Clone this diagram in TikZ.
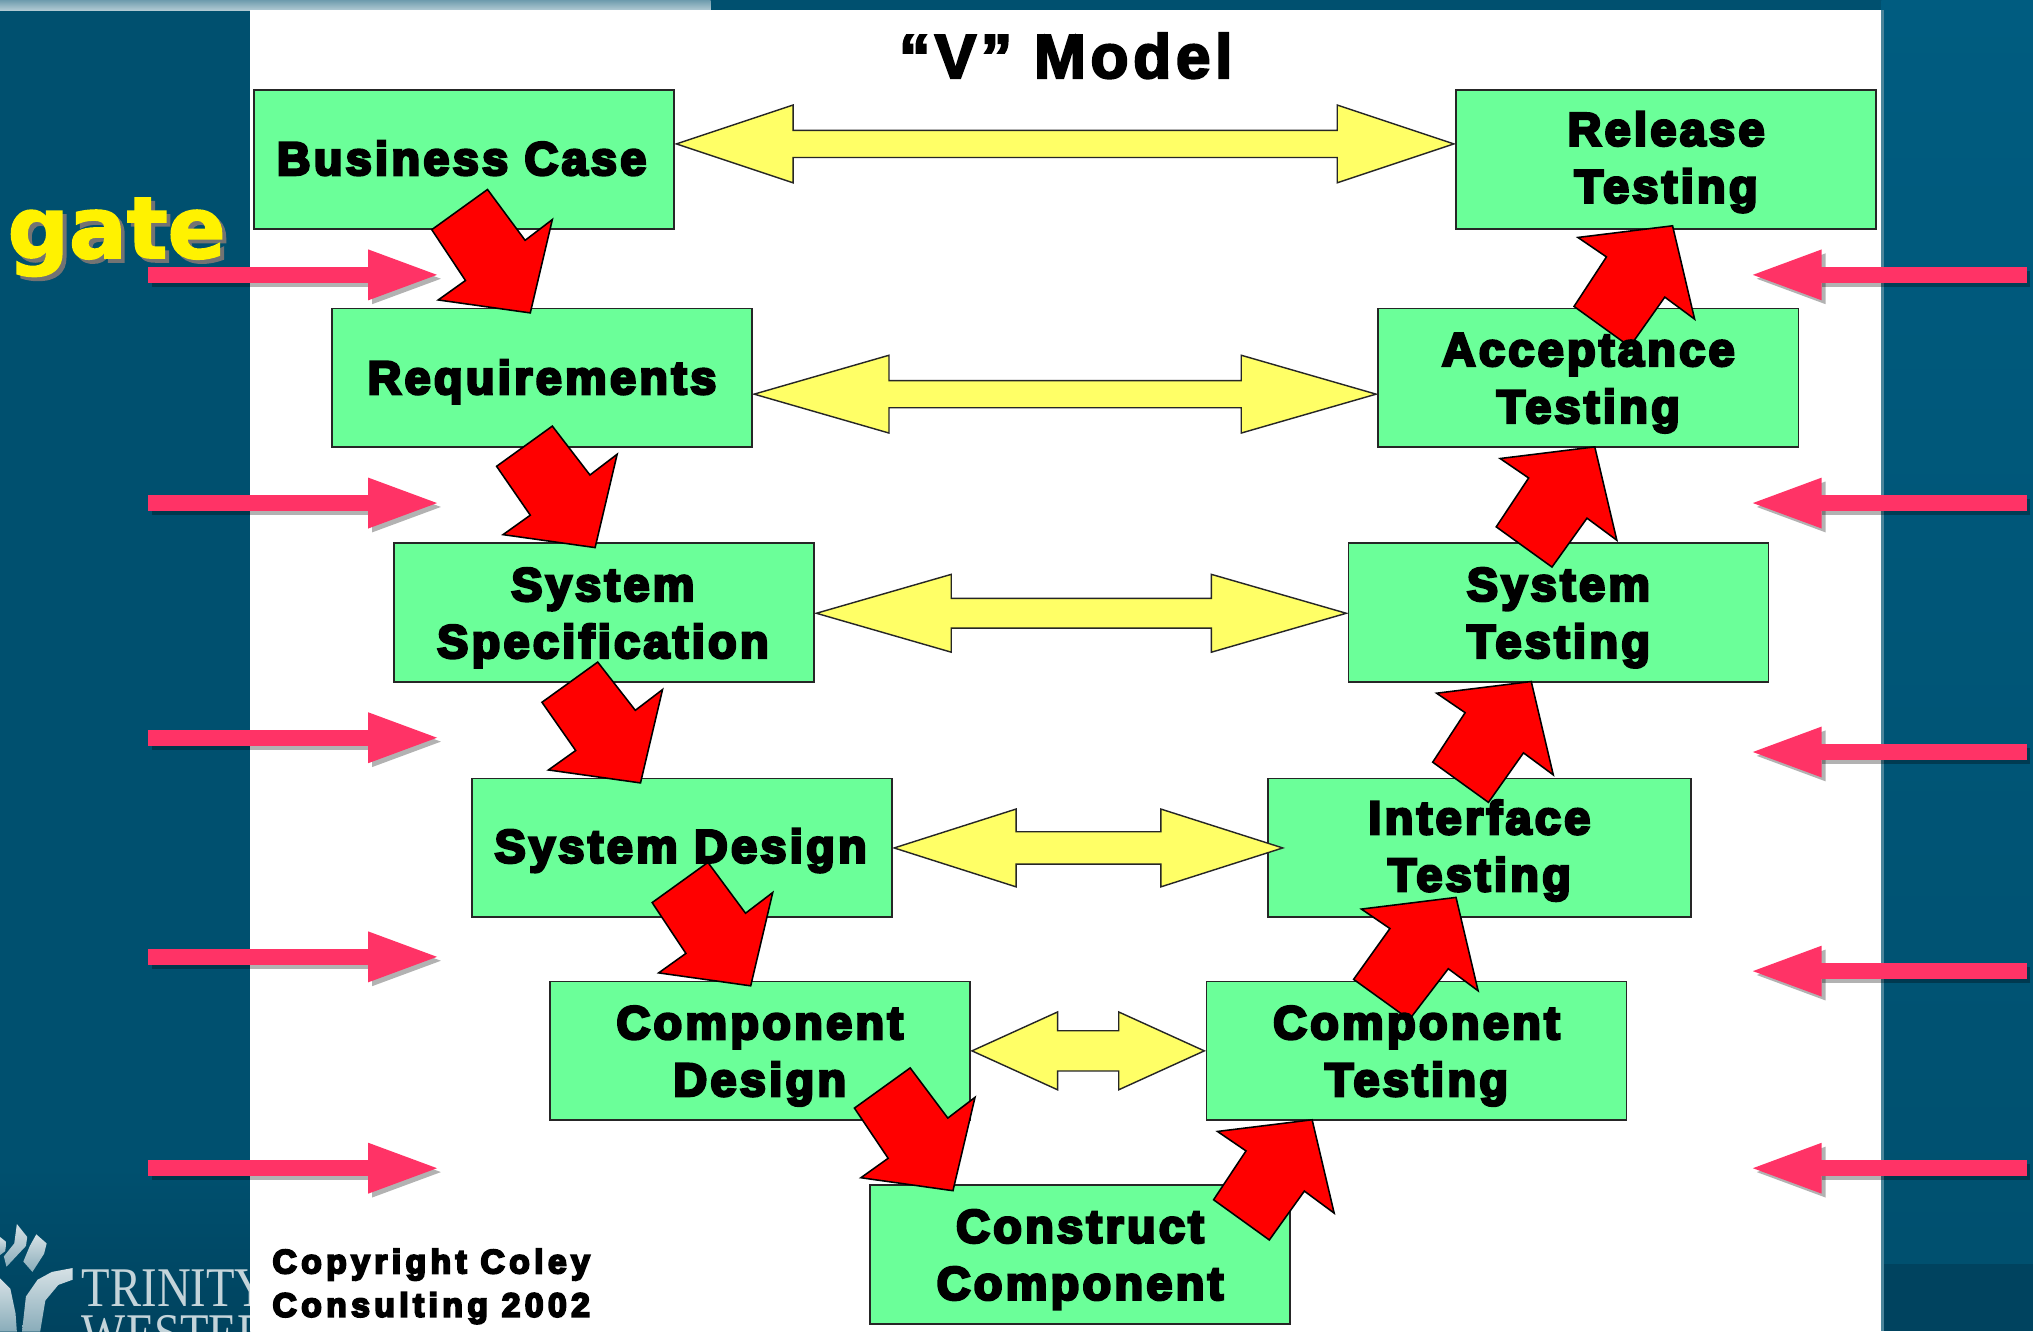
\documentclass[tikz,border=0pt]{standalone}
\usepackage{fontspec}
\usetikzlibrary{arrows.meta}
\newfontfamily\heavyfont[FakeBold=6,LetterSpace=7.3]{Liberation Sans Bold}
\newfontfamily\smallheavyfont[FakeBold=6,LetterSpace=13]{Liberation Sans Bold}
\newfontfamily\titlefont[FakeBold=3.5,LetterSpace=7.5]{Liberation Sans Bold}
\newfontfamily\gatefont[FakeBold=2]{DejaVu Sans Bold}
\newfontfamily\logofont{Liberation Serif}
\definecolor{slidebg}{HTML}{00506F}
\definecolor{slidedark}{HTML}{00435F}
\definecolor{slidelight}{HTML}{005C80}
\definecolor{boxgreen}{HTML}{6BFF99}
\definecolor{barpink}{HTML}{FF3366}
\definecolor{linkyellow}{HTML}{FFFF66}
\definecolor{logogray}{HTML}{C4D4DA}
\tikzset{
  stagebox/.style={draw=black!85,fill=boxgreen,line width=1.3pt,minimum width=324pt,minimum height=107pt,inner sep=0pt},
  stagetext/.style={font=\heavyfont\fontsize{36}{44}\selectfont,align=center,text=black,inner sep=0pt,yshift=-3pt},
  linkbar/.style={draw=black!85,fill=linkyellow,line width=1.1pt,line join=miter},
  stepbar/.style={draw=black,fill=red,line width=1.2pt,line join=miter},
  gatebar/.style={barpink,line width=12.5pt,-{Triangle[length=56pt,width=35pt]}},
  gateshade/.style={black,opacity=.3,line width=12.5pt,-{Triangle[length=56pt,width=35pt]}},
  logoflame/.style={top color=logogray!70!white,bottom color=logogray!70!slidebg},
  logotext/.style={anchor=base west,inner sep=0pt,text=logogray,font=\logofont\fontsize{36}{36}\selectfont,yscale=1.2,transform shape}
}
% double headed link between two boxes, #6 is how far it runs into the right box
\newcommand{\linkboxes}[6]{
  \draw[linkbar] ([shift={(1,#3)}]#1.east) -- ([shift={(#4,#3-30)}]#1.east) -- ([shift={(#4,#3-#5)}]#1.east)
    -- ([shift={(#6-#4,#3-#5)}]#2.west) -- ([shift={(#6-#4,#3-30)}]#2.west) -- ([shift={(#6-1,#3)}]#2.west)
    -- ([shift={(#6-#4,#3+30)}]#2.west) -- ([shift={(#6-#4,#3+#5)}]#2.west)
    -- ([shift={(#4,#3+#5)}]#1.east) -- ([shift={(#4,#3+30)}]#1.east) -- cycle;
}
% red step going down, #3 and #4 place its tail and its tip
\newcommand{\stepdown}[4]{
  \draw[stepbar] ([shift={(#3)}]#1.south) -- ([shift={(#3)},shift={(-43,31)}]#1.south)
    -- ([shift={(#4)},shift={(-50,-25)}]#2.north) -- ([shift={(#4)},shift={(-71,-10)}]#2.north)
    -- ([shift={(#4)}]#2.north) -- ([shift={(#4)},shift={(17,-72)}]#2.north)
    -- ([shift={(#4)},shift={(-4,-56)}]#2.north) -- cycle;
}
% red step going up
\newcommand{\stepup}[4]{
  \draw[stepbar] ([shift={(#3)}]#1.north) -- ([shift={(#3)},shift={(-43,-31)}]#1.north)
    -- ([shift={(#4)},shift={(-51,24)}]#2.south) -- ([shift={(#4)},shift={(-73,9)}]#2.south)
    -- ([shift={(#4)}]#2.south) -- ([shift={(#4)},shift={(17,72)}]#2.south)
    -- ([shift={(#4)},shift={(-6,55)}]#2.south) -- cycle;
}
\newcommand{\gatearrow}[2]{
  \draw[gateshade] ([shift={(3,3)}]#1) -- ([shift={(3,3)}]#2);
  \draw[gatebar] (#1) -- (#2);
}
\begin{document}
\begin{tikzpicture}[x=1pt,y=-1pt]
  \useasboundingbox (0,0) rectangle (1568,1026.6);
  % slide background
  \fill[slidebg] (0,0) rectangle (1568,1026.6);
  \shade[top color=slidebg,bottom color=slidedark] (0,900) rectangle (193,1026.6);
  \shade[top color=slidelight,bottom color=slidebg] (1451,0) rectangle (1568,975);
  \fill[slidedark] (1451,975) rectangle (1568,1026.6);
  \shade[top color=white!43!slidebg,bottom color=white!70!slidebg] (0,0) rectangle (548,8);
  % logo
  \begin{scope}
    \clip (0,900) rectangle (193,1026.6);
    \shade[logoflame] (13,944) -- (21,954) -- (20,961) -- (5,977) -- (3,969) -- (11,959) -- cycle;
    \shade[logoflame] (28,952) -- (36,959) -- (34,967) -- (25,981) -- (18,973) -- (23,961) -- cycle;
    \shade[logoflame] (0,954) -- (5,958) -- (4,965) -- (0,968) -- cycle;
    \shade[logoflame] (56,978) -- (56,987) -- (45,991) -- (35,1003) -- (31,1027) -- (17,1027) -- (20,1000) -- (29,987) -- (40,981) -- cycle;
    \shade[logoflame] (0,986) -- (8,994) -- (12,1013) -- (13,1027) -- (0,1027) -- cycle;
    \node[logotext] (logoa) at (63,1008) {TRINITY};
    \node[logotext] (logob) at (63,1043) {WESTERN};
  \end{scope}
  % white panel
  \fill[white] (193,8) rectangle (1451,1026.6);
  \fill[white!30!slidebg] (1451,8) rectangle (1453,1026.6);
  \node[font=\titlefont\fontsize{48}{48}\selectfont,inner sep=0pt] (title) at (822,43) {“V” Model};
  \node[anchor=base,font=\gatefont\fontsize{66}{66}\selectfont,text=black!55,inner sep=0pt] (gateshade) at (93,202) {gate};
  \node[anchor=base,font=\gatefont\fontsize{66}{66}\selectfont,text=yellow,inner sep=0pt] (gate) at (90,199) {gate};
  % stages
  \node[stagebox] (bc) at (358,123) {};
  \node[stagebox] (req) at (418,291.5) {};
  \node[stagebox] (spec) at (466,472.5) {};
  \node[stagebox] (sysd) at (526,654) {};
  \node[stagebox] (compd) at (586,810.5) {};
  \node[stagebox] (constr) at (833,967.5) {};
  \node[stagebox] (compt) at (1092.5,810.5) {};
  \node[stagebox,minimum width=326pt] (intf) at (1141,654) {};
  \node[stagebox] (syst) at (1202,472.5) {};
  \node[stagebox] (acc) at (1225,291.5) {};
  \node[stagebox] (rel) at (1285,123) {};
  % links
  \linkboxes{bc}{rel}{-12}{91}{10.5}{0}
  \linkboxes{req}{acc}{12.5}{105}{10.5}{0}
  \linkboxes{spec}{syst}{0.5}{105}{11.5}{0}
  \linkboxes{sysd}{intf}{0}{95}{12.5}{13}
  \linkboxes{compd}{compt}{0}{67}{15.5}{0}
  % steps
  \stepdown{bc}{req}{18,-31}{-9,4}
  \stepdown{req}{spec}{8,-17}{-7,4}
  \stepdown{spec}{sysd}{-5,-16}{-32,4}
  \stepdown{sysd}{compd}{20,-43}{-7,4}
  \stepdown{compd}{constr}{116,-41}{-98,5}
  \stepup{constr}{compt}{146,43}{-80.5,-1}
  \stepup{compt}{intf}{-5.5,30}{-18,-16}
  \stepup{intf}{syst}{7,19}{-21,-1}
  \stepup{syst}{acc}{-5,19}{5,-1}
  \stepup{acc}{rel}{32,30}{5,-3}
  % stage names
  \node[stagetext,yshift=4pt,xshift=-2pt] (bclabel) at (bc) {Business Case};
  \node[stagetext] (reqlabel) at (req) {Requirements};
  \node[stagetext,yshift=-1pt,xshift=-1pt] (speclabel) at (spec) {System\\Specification};
  \node[stagetext,yshift=1pt,xshift=-1pt] (sysdlabel) at (sysd) {System Design};
  \node[stagetext,yshift=-1pt] (compdlabel) at (compd) {Component\\Design};
  \node[stagetext,yshift=-1pt] (constrlabel) at (constr) {Construct\\Component};
  \node[stagetext,yshift=-1pt] (comptlabel) at (compt) {Component\\Testing};
  \node[stagetext,yshift=1pt] (intflabel) at (intf) {Interface\\Testing};
  \node[stagetext,yshift=-1pt] (systlabel) at (syst) {System\\Testing};
  \node[stagetext,yshift=-1pt] (acclabel) at (acc) {Acceptance\\Testing};
  \node[stagetext,yshift=1pt] (rellabel) at (rel) {Release\\Testing};
  % gates
  \foreach \yy [count=\i] in {212,388,569,738,901} {
    \coordinate (lefttail\i) at (114,\yy);
    \coordinate (lefttip\i) at (340,\yy);
    \gatearrow{lefttail\i}{lefttip\i}
  }
  \foreach \yy [count=\i] in {212,388,580,749,901} {
    \coordinate (righttail\i) at (1563,\yy);
    \coordinate (righttip\i) at (1349,\yy);
    \gatearrow{righttail\i}{righttip\i}
  }
  \node[anchor=north west,align=left,inner sep=0pt,font=\smallheavyfont\fontsize{26}{33.5}\selectfont] (copy) at (210,963) {Copyright Coley\\Consulting 2002};
\end{tikzpicture}
\end{document}
